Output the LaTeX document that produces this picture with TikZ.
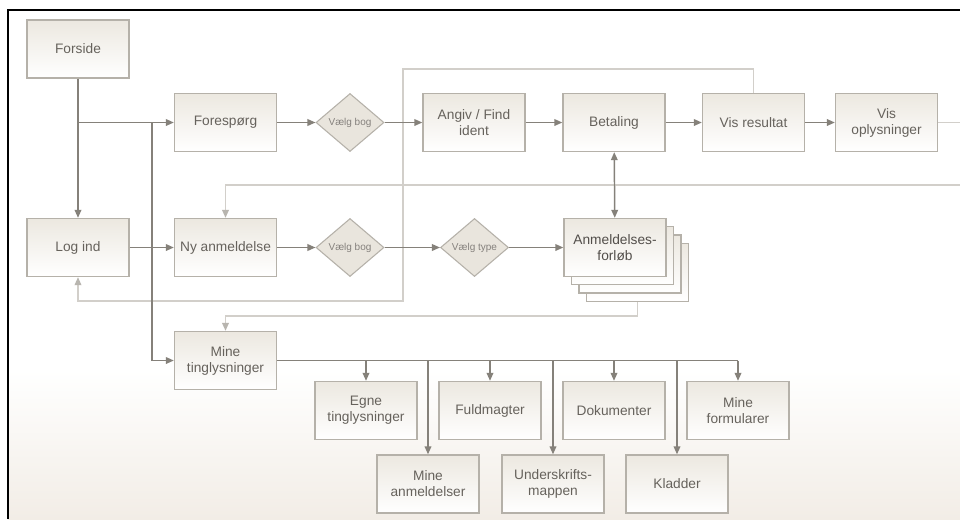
\documentclass[tikz,border=0pt]{standalone}
\usepackage{fontspec}
\setmainfont{Liberation Sans}
\usetikzlibrary{arrows.meta,shapes.geometric}

\definecolor{boxline}{HTML}{B5B1A9}
\definecolor{boxtop}{HTML}{ECE8E0}
\definecolor{boxtext}{HTML}{66625C}
\definecolor{dmfill}{HTML}{E9E5DD}
\definecolor{flow}{HTML}{85817A}
\definecolor{back}{HTML}{D2CFCA}
\definecolor{backtip}{HTML}{B8B5AF}
\definecolor{bgbot}{HTML}{F2EDE6}

\tikzset{
    page/.style={line width=1.5pt,draw=black},
    box/.style={rectangle,draw=boxline,line width=1pt,top color=boxtop,bottom color=white,
                minimum width=76.5pt,minimum height=43.5pt,inner sep=1pt,align=center,
                text=boxtext,font=\fontsize{10.3}{12}\selectfont},
    choice/.style={diamond,draw=boxline,line width=0.8pt,fill=dmfill,inner sep=0pt,
                   minimum width=51pt,minimum height=43.5pt,text=boxtext!80,
                   font=\fontsize{7.5}{9}\selectfont},
    go/.style={draw=flow,line width=1.1pt,-{Triangle[length=6pt,width=5pt]}},
    both/.style={draw=flow,line width=1.1pt,{Triangle[length=6pt,width=5pt]}-{Triangle[length=6pt,width=5pt]}},
    plain/.style={draw=flow,line width=1.1pt},
    ret/.style={draw=back,line width=1.1pt,-{Triangle[length=6pt,width=5pt,color=backtip]}}
}

\begin{document}
\begin{tikzpicture}[x=0.75pt,y=-0.75pt]
\useasboundingbox (0,0) rectangle (960,519);
\fill[white] (8,10) rectangle (960,519);
\shade[top color=white,bottom color=bgbot] (8,370) rectangle (960,519);
\draw[page] (8,519) -- (8,10) -- (960,10);

% top row
\node[box] (forside) at (78,49) {Forside};
\node[box] (fsp) at (225.5,122.5) {Forespørg};
\node[choice] (vb1) at (350,122.5) {Vælg bog};
\node[box] (angiv) at (474,122.5) {Angiv / Find\\ident};
\node[box] (betal) at (614,122.5) {Betaling};
\node[box] (visres) at (753.5,122.5) {Vis resultat};
\node[box] (visopl) at (886.5,122.5) {Vis\\oplysninger};

% middle row
\node[box] (login) at (78,247.5) {Log ind};
\node[box] (nyanm) at (225.5,247.5) {Ny anmeldelse};
\node[choice] (vb2) at (350,247.5) {Vælg bog};
\node[choice] (vtype) at (474.5,247.5) {Vælg type};
\foreach \k/\nm in {3/anm3,2/anm2,1/anm1}
    \node[box] (\nm) at (615+7.5*\k,247.5+8.3*\k) {};
\node[box,text=boxtext!80!black] (anm) at (615,247.5) {Anmeldelses-\\forløb};

% Mine tinglysninger
\node[box] (mine) at (225.5,360.5) {Mine\\tinglysninger};
\node[box] (egne) at (366,410.5) {Egne\\tinglysninger};
\node[box] (fuld) at (490,410.5) {Fuldmagter};
\node[box] (dok) at (614,410.5) {Dokumenter};
\node[box] (minef) at (738,410.5) {Mine\\formularer};
\node[box] (mineanm) at (428,484) {Mine\\anmeldelser};
\node[box] (under) at (553,484) {Underskrifts-\\mappen};
\node[box] (kladder) at (677,484) {Kladder};

\coordinate (j1) at (forside |- fsp);
\coordinate (j2) at (152,122.5);
\coordinate (r1) at (403,69);
\coordinate (r2) at (login.south |- 0,301);
\coordinate (r3) at (965,122.5);
\coordinate (r4) at (nyanm.north |- 0,185);
\coordinate (r5) at (mine.north |- 0,316);

% return lines
\draw[ret] (visres.north) |- (r1) |- (r2) -- (login.south);
\draw[ret] (visopl.east) -- (r3) |- (r4) -- (nyanm.north);
\draw[ret] (anm3.south) |- (r5) -- (mine.north);

% flow
\draw[go] (forside) -- (login);
\draw[go] (j1) -- (fsp);
\draw[go] (j2) |- (mine);
\draw[go] (fsp) -- (vb1);
\draw[go] (vb1) -- (angiv);
\draw[go] (angiv) -- (betal);
\draw[go] (betal) -- (visres);
\draw[go] (visres) -- (visopl);
\draw[go] (login) -- (nyanm);
\draw[go] (nyanm) -- (vb2);
\draw[go] (vb2) -- (vtype);
\draw[go] (vtype) -- (anm);
\draw[both] (betal) -- (anm);

\draw[plain] (mine.east) -- (mine.east -| minef.north);
\foreach \t in {egne,mineanm,fuld,under,dok,kladder,minef}
    \draw[go] (mine.east -| \t.north) -- (\t.north);
\end{tikzpicture}
\end{document}
